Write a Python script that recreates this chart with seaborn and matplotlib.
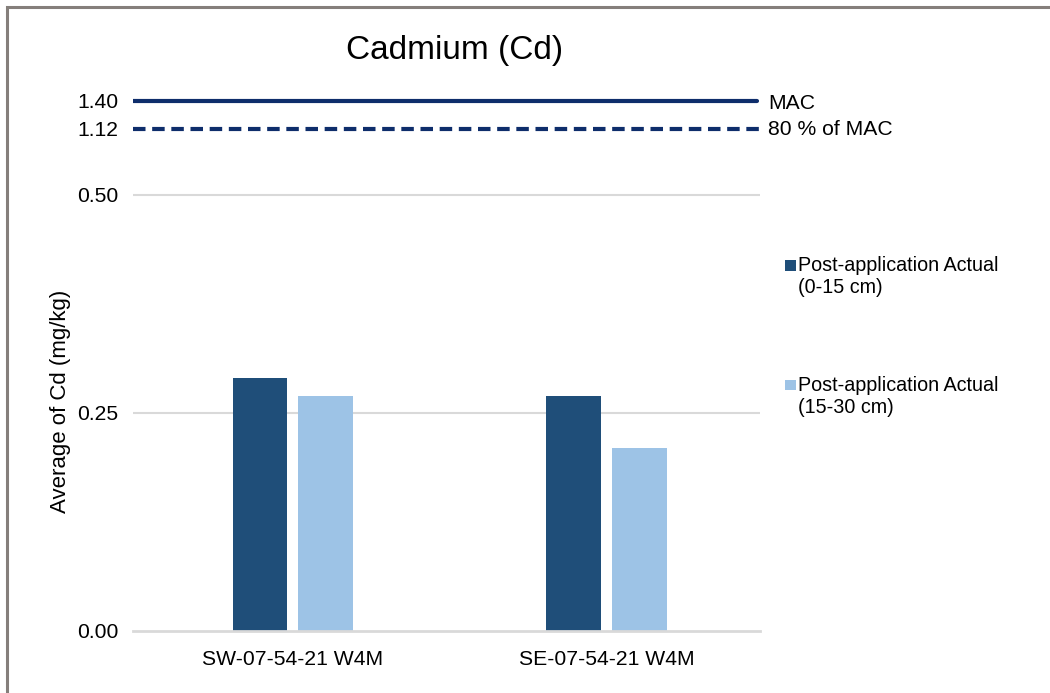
import numpy as np
import pandas as pd
import matplotlib
matplotlib.use("Agg")
import matplotlib.pyplot as plt
import seaborn as sns
from matplotlib.patches import Rectangle, Patch
from matplotlib.legend_handler import HandlerPatch

# ---- data ----
sites = ["SW-07-54-21 W4M", "SE-07-54-21 W4M"]
depth_labels = ["Post-application Actual\n(0-15 cm)", "Post-application Actual\n(15-30 cm)"]
values_0_15 = [0.29, 0.27]
values_15_30 = [0.27, 0.21]
mac = 1.40
mac80 = 1.12
ytick_values = [0.00, 0.25, 0.50, 1.12, 1.40]
ytick_labels = ["0.00", "0.25", "0.50", "1.12", "1.40"]

df = pd.DataFrame({
    "site": sites * 2,
    "depth": [depth_labels[0]] * 2 + [depth_labels[1]] * 2,
    "value": values_0_15 + values_15_30,
})

sns.set_theme(style="white")
plt.rcParams["font.family"] = ["Liberation Sans", "DejaVu Sans"]
for k in ["text.color", "axes.labelcolor", "xtick.color", "ytick.color"]:
    plt.rcParams[k] = "black"

# broken (compressed) axis above 0.5
_src = np.array([-10.0, 0.0, 0.5, 1.12, 1.40, 10.0])
_dst = np.array([-10.0, 0.0, 0.5, 0.5 + 66 / 872, 0.5 + 94 / 872, 0.5 + 94 / 872 + 8.6 * 100 / 872])

def fwd(v):
    return np.interp(v, _src, _dst)

def inv(v):
    return np.interp(v, _dst, _src)

fig = plt.figure(figsize=(10.5, 6.93), dpi=100)
ax = fig.add_axes([133 / 1050, 1 - 631 / 693, (760 - 133) / 1050, (631 - 91) / 693])
ax.set_yscale("function", functions=(fwd, inv))

colors = ["#1f4e79", "#9dc3e6"]
sns.barplot(data=df, x="site", y="value", hue="depth", palette=colors,
            width=0.42, gap=0.167, ax=ax, legend=False, saturation=1,
            edgecolor="none")

ax.set_ylim(0, 1.5)
ax.set_xlim(-0.51, 1.49)
ax.set_yticks(ytick_values)
ax.set_yticklabels(ytick_labels)
ax.tick_params(axis="both", length=0, labelsize=15.2, colors="black")
ax.tick_params(axis="y", pad=10.5)
ax.tick_params(axis="x", pad=14)
ax.set_xlabel("")
ax.set_ylabel("Average of Cd (mg/kg)", fontsize=16)
ax.yaxis.set_label_coords(-0.099, (631 - 401) / 540)

for s in ["top", "right", "left"]:
    ax.spines[s].set_visible(False)
ax.spines["bottom"].set_color("#d9d9d9")
ax.spines["bottom"].set_linewidth(2)

for g in [0.25, 0.50]:
    ax.axhline(g, color="#d9d9d9", lw=1.5, zorder=0)

ax.axhline(mac, color="#0e2d6b", lw=3, xmax=(757 - 133) / (760 - 133))
ax.axhline(mac80, color="#0e2d6b", lw=3, ls=(0, (3, 1.6)))
ax.annotate("MAC", xy=(1.0, mac), xycoords=ax.get_yaxis_transform(),
            xytext=(6, -2), textcoords="offset points",
            va="center", ha="left", fontsize=15.2)
ax.annotate("80 % of MAC", xy=(1.0, mac80), xycoords=ax.get_yaxis_transform(),
            xytext=(6, -0.5), textcoords="offset points",
            va="center", ha="left", fontsize=15.2)

fig.text(455 / 1050, 1 - 51 / 693, "Cadmium (Cd)", ha="center", va="center", fontsize=24)

LEG_FS = 14.2

def top_square(legend, orig_handle, xdescent, ydescent, width, height, fontsize):
    size = 0.55 * fontsize
    y = -ydescent + (height - size) / 2 + 0.6 * fontsize
    return Rectangle((-xdescent, y), size, size)

handles = [Patch(facecolor=c, edgecolor="none") for c in colors]
leg = fig.legend(handles, depth_labels, loc="upper left",
                 bbox_to_anchor=(777 / 1050, 1 - 248 / 693), frameon=False,
                 fontsize=LEG_FS, handlelength=0.55, handleheight=0.75,
                 handletextpad=0.1, labelspacing=4.0, borderaxespad=0,
                 handler_map={Patch: HandlerPatch(patch_func=top_square)})
for t in leg.get_texts():
    t.set_linespacing(1.2)

# outer frame
fig.patches.append(Rectangle((7 / 1050, -0.1), 1.2, (693 - 7) / 693 + 0.1,
                             transform=fig.transFigure, fill=False,
                             edgecolor="#857f7b", lw=2.2))

fig.savefig("out.png", dpi=100, facecolor="white")
